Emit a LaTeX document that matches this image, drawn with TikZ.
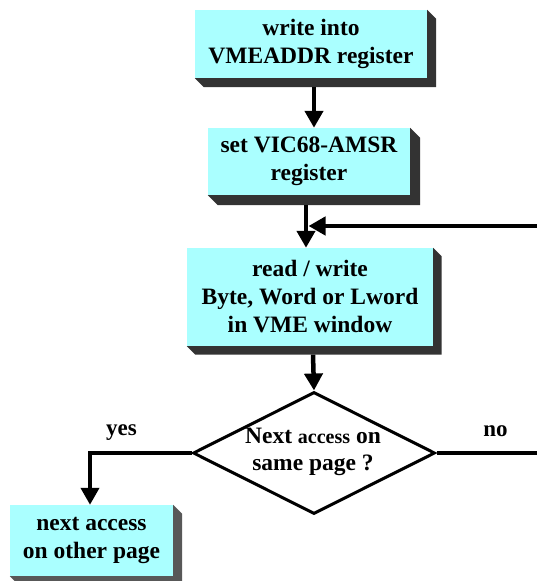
\documentclass[tikz,border=0pt]{standalone}
\usepackage{fontspec}
\setmainfont{Liberation Serif}
\usetikzlibrary{arrows.meta,shapes.geometric}
\definecolor{boxcyan}{RGB}{170,255,255}
\definecolor{shdark}{RGB}{51,51,51}
\definecolor{shgray}{RGB}{88,88,88}
\newcommand\myextrude[3]{%
  \fill[#2] (#1.north east) -- ++(#3,-#3) -- ([shift={(#3,-#3)}]#1.south east)
    -- ([shift={(#3,-#3)}]#1.south west) -- (#1.south west) -- (#1.south east) -- cycle;}
\begin{document}
\begin{tikzpicture}[x=1pt,y=1pt,
  boxface/.style={fill=boxcyan, inner sep=0pt, align=center,
    font=\fontsize{23.5}{28}\selectfont\bfseries},
  flow/.style={line width=4.5pt, -{Triangle[width=18pt,length=17pt]}},
  plainline/.style={line width=4pt},
  lbl/.style={font=\fontsize{23}{28}\selectfont\bfseries, inner sep=0pt, anchor=base}]
\useasboundingbox (0,0) rectangle (537,581);
% boxes
\node[boxface, minimum width=232pt, minimum height=68pt] (b1) at (311,537) {write into\\VMEADDR register};
\myextrude{b1}{shdark}{9}
\node[boxface, minimum width=202pt, minimum height=67pt] (b2) at (309,419.5) {set VIC68-AMSR\\register};
\myextrude{b2}{shdark}{10}
\node[boxface, minimum width=246pt, minimum height=98pt] (b3) at (310,284) {read / write\\Byte, Word or Lword\\in VME window};
\myextrude{b3}{shdark}{8.5}
\node[draw, line width=3pt, shape=diamond, minimum width=242pt, minimum height=122pt, inner sep=0pt] (d) at (314,128) {};
\node[inner sep=0pt, align=center, font=\fontsize{23.5}{27}\selectfont\bfseries] (dt) at (313,129.5)
  {Next {\fontsize{20}{27}\selectfont access} on\\same page ?};
\node[boxface, minimum width=163pt, minimum height=71pt] (b4) at (91.5,40.5) {next access\\on other page};
\myextrude{b4}{shgray}{9}
% labels
\node[lbl] (yes) at (121.5,145) {yes};
\node[lbl] (no) at (495.5,144) {no};
% coordinates for free ends
\coordinate (fb) at (537,355);
\coordinate (fbj) at (308.5,355);
\coordinate (noend) at (537,128);
% connectors
\draw[flow] ([xshift=3pt,yshift=-9pt]b1.south) -- ([xshift=3pt]b1.south |- b2.north);
\draw[flow] ([xshift=-3pt,yshift=-10pt]b2.south) -- ([xshift=-3pt]b2.south |- b3.north);
\draw[flow] (fb) -- (fbj);
\draw[flow] ([xshift=3pt,yshift=-8.5pt]b3.south) -- (d.north);
\draw[flow, line width=4pt] (d.west) -| ([xshift=-1.5pt]b4.north);
\draw[plainline] (d.east) -- (noend);
\end{tikzpicture}
\end{document}
